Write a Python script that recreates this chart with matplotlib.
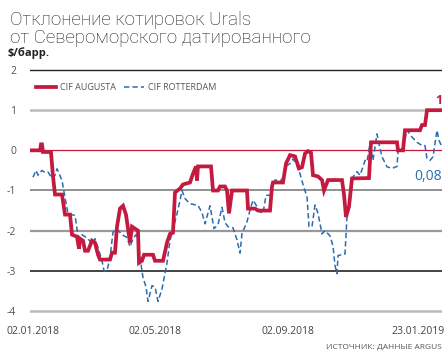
import matplotlib
matplotlib.use("Agg")
from matplotlib import pyplot as plt

# day index from the start of the chart
augusta_x = [0, 10, 11, 12, 13, 20, 21, 23, 25, 32, 35, 40, 42, 47, 49, 50, 53, 55, 58, 62, 65,
             68, 70, 80, 82, 85, 87, 90, 93, 96, 100, 102, 105, 108, 109, 112, 114, 123, 125, 133,
             137, 140, 143, 145, 150, 153, 160, 163, 166, 167, 168, 181, 183, 188, 190, 195, 197,
             199, 202, 217, 218, 225, 228, 240, 242, 243, 253, 256, 260, 265, 269, 272, 275, 278,
             281, 283, 288, 292, 294, 298, 312, 314, 316, 319, 322, 339, 341, 367, 368, 373, 375,
             390, 392, 395, 397, 412]
augusta_y = [0, 0, 0.15, 0.15, -0.04, -0.04, -0.05, -0.65, -1.1, -1.1, -1.6, -1.6, -2.1, -2.15,
             -2.45, -2.2, -2.25, -2.5, -2.5, -2.25, -2.3, -2.6, -2.72, -2.72, -2.55, -2.55, -1.9,
             -1.45, -1.38, -1.6, -2.3, -1.9, -1.95, -2.0, -2.8, -2.75, -2.6, -2.6, -2.75, -2.75,
             -2.3, -2.08, -2.05, -1.05, -0.95, -0.85, -0.8, -0.58, -0.4, -0.75, -0.4, -0.4, -1.0,
             -1.0, -0.9, -0.9, -1.0, -1.57, -1.0, -1.0, -1.45, -1.45, -1.5, -1.5, -0.9, -0.8, -0.8,
             -0.33, -0.12, -0.15, -0.45, -0.42, -0.08, -0.02, -0.06, -0.62, -0.65, -0.74, -1.0,
             -0.74, -0.74, -1.1, -1.66, -1.4, -0.7, -0.69, 0.2, 0.2, 0.0, 0.0, 0.5, 0.5, 0.63, 0.63,
             1.0, 1.0]

rotterdam_x = [3, 6, 8, 12, 15, 18, 22, 25, 27, 32, 35, 38, 45, 48, 50, 52, 55, 58, 62, 65, 68,
               72, 74, 77, 80, 83, 87, 92, 97, 100, 103, 106, 108, 110, 113, 116, 118, 122, 125,
               128, 132, 137, 140, 143, 147, 150, 152, 155, 160, 168, 172, 175, 180, 184, 188, 192,
               195, 198, 203, 207, 210, 212, 217, 220, 223, 227, 230, 233, 236, 240, 243, 245, 252,
               255, 260, 263, 266, 270, 273, 277, 279, 282, 285, 288, 292, 295, 300, 303, 305, 307,
               308, 315, 317, 320, 323, 327, 330, 333, 335, 337, 340, 343, 347, 349, 352, 357, 362,
               367, 368, 373, 377, 382, 387, 392, 395, 397, 400, 403, 407, 409, 412]
rotterdam_y = [-0.67, -0.5, -0.62, -0.5, -0.55, -0.54, -0.7, -0.62, -0.46, -0.75, -1.17, -1.58,
               -1.62, -2.12, -2.2, -2.1, -2.15, -2.2, -2.33, -2.2, -2.42, -2.75, -3.0, -3.0, -2.67,
               -2.04, -1.96, -2.1, -2.17, -2.4, -2.2, -2.1, -2.2, -2.67, -3.17, -3.4, -3.76, -3.37,
               -3.4, -3.76, -3.45, -2.8, -2.25, -1.96, -1.58, -1.25, -1.0, -1.2, -1.33, -1.37,
               -1.55, -1.83, -1.38, -1.95, -1.85, -1.42, -1.8, -1.9, -1.93, -2.23, -2.56, -2.07,
               -1.78, -1.49, -1.24, -1.4, -1.53, -1.57, -1.12, -1.12, -0.83, -0.74, -0.74, -0.41,
               -0.33, -0.21, -0.33, -0.58, -0.85, -1.16, -1.9, -1.9, -1.36, -1.57, -2.08, -2.0,
               -2.13, -2.38, -2.87, -3.07, -2.62, -2.58, -1.64, -1.15, -0.66, -0.53, -0.62, -0.41,
               -0.25, -0.28, 0.16, -0.25, 0.41, 0.16, -0.16, -0.41, -0.45, -0.4, -0.04, 0.08, 0.5,
               0.33, 0.2, 0.12, 0.12, -0.2, -0.25, -0.16, 0.5, 0.25, 0.08]

date_ticks = [3, 125, 258, 388]
date_labels = ['02.01.2018', '02.05.2018', '02.09.2018', '23.01.2019']

red = '#c41a3f'
blue = '#2b6cb0'
plt.rcParams['font.family'] = ['Open Sans', 'DejaVu Sans']

fig = plt.figure(figsize=(4.48, 3.56), dpi=100)
ax = fig.add_axes([30 / 448, 1 - 315 / 356, 412 / 448, 249 / 356])
ax.set_xlim(0, 412)
ax.set_ylim(-4.1, 2.1)

grid = {2: ('#222222', 1.0), 1: ('#bbbbbb', 1.8), 0: (red, 0.9), -1: ('#888888', 1.3),
        -2: ('#999999', 1.6), -3: ('#111111', 1.1), -4: ('#bbbbbb', 1.8)}
for yv, (c, lw) in grid.items():
    ax.axhline(yv, color=c, lw=lw, zorder=1)

ax.plot(augusta_x, augusta_y, color=red, lw=2.7, label='CIF AUGUSTA', zorder=4,
        solid_joinstyle='miter')
ax.plot(rotterdam_x, rotterdam_y, color=blue, lw=1.1, ls=(0, (3.5, 2)), label='CIF ROTTERDAM',
        zorder=3)

for s in ax.spines.values():
    s.set_visible(False)
ax.set_yticks([2, 1, 0, -1, -2, -3, -4])
ax.set_yticklabels(['2', '1', '0', '-1', '-2', '-3', '-4'])
ax.tick_params(axis='y', length=0, pad=10, labelsize=7.5, labelcolor='#555555')
ax.set_xticks(date_ticks)
ax.set_xticklabels(date_labels)
ax.tick_params(axis='x', length=0, pad=8, labelsize=7.5, labelcolor='#444444')

leg = ax.legend(loc='upper left', bbox_to_anchor=(-0.005, 0.965), ncol=2, frameon=False,
                fontsize=6.5, handlelength=2.2, columnspacing=0.8, handletextpad=0.5)
for t in leg.get_texts():
    t.set_color('#555555')

ax.text(412, 1.07, '1', color=red, fontsize=9, fontweight='bold', ha='right', va='bottom')
ax.text(412, -0.65, '0,08', color=blue, fontsize=10, ha='right', va='center')

title_font = ['Roboto', 'DejaVu Sans']
fig.text(10 / 448, 1 - 25 / 356, 'Отклонение котировок Urals', fontsize=13.5,
         family=title_font, fontweight='light', color='#222222', va='baseline')
fig.text(10 / 448, 1 - 43 / 356, 'от Североморского датированного', fontsize=13.5,
         family=title_font, fontweight='light', color='#222222', va='baseline')
fig.text(8 / 448, 1 - 56 / 356, '$/барр.', fontsize=8, fontweight='bold', color='#222222',
         va='baseline')
fig.text(442 / 448, 1 - 349 / 356, 'ИСТОЧНИК: ДАННЫЕ ARGUS', fontsize=6, color='#555555',
         ha='right', va='baseline')

fig.savefig('out.png', dpi=100)
